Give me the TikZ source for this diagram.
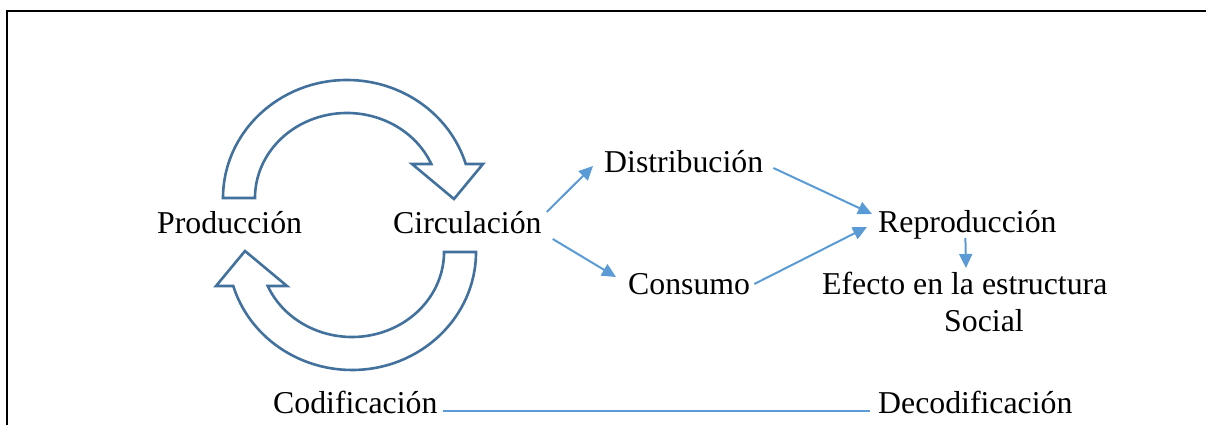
\documentclass[tikz,border=0pt]{standalone}
\usepackage{fontspec}
\setmainfont{Liberation Serif}
\usetikzlibrary{arrows.meta,calc}
\definecolor{arrblue}{HTML}{5B9BD5}
\definecolor{outblue}{HTML}{41719C}
\tikzset{
  lbl/.style={inner sep=0pt, anchor=base west, font=\fontsize{31.8}{37}\selectfont},
  arr/.style={draw=arrblue, line width=2pt, -{Triangle[length=14pt,width=13pt]}},
  link/.style={draw=arrblue, line width=1.3pt},
  bigarrow/.style={draw=outblue, fill=white, line width=2.6pt, line join=miter},
  frame/.style={draw=black, line width=2pt}
}
\begin{document}
\begin{tikzpicture}[x=1pt,y=1pt]
\useasboundingbox (0,0) rectangle (1206,425);
\draw[frame] (7,0) -- (7,414) -- (1206,414);
% curved arrows
\newcommand{\mycurvedarrow}{%
  (223,227) arc[start angle=180, end angle=16.75, x radius=124, y radius=118]
  -- (483,261) -- (454,226) -- (412,261) -- (431.3,261)
  arc[start angle=23.58, end angle=180, x radius=92, y radius=85] -- cycle}
\path[bigarrow] \mycurvedarrow;
\begin{scope}[rotate around={180:(349.5,200)}]
\path[bigarrow] \mycurvedarrow;
\end{scope}
% labels
\node[lbl] (prod) at (157,191) {Producción};
\node[lbl] (circ) at (393,191) {Circulación};
\node[lbl] (dist) at (604,252) {Distribución};
\node[lbl] (cons) at (628,130) {Consumo};
\node[lbl] (repr) at (878,192) {Reproducción};
\node[lbl] (efecto) at (822,130) {Efecto en la estructura};
\node[lbl] (social) at (944,93) {Social};
\node[lbl] (cod) at (273,11) {Codificación};
\node[lbl] (decod) at (878,11) {Decodificación};
% connectors
\draw[arr] ([shift={(5,22)}]circ.base east) -- ([shift={(-11,7)}]dist.base west);
\draw[arr] ([shift={(11,-5)}]circ.base east) -- ([shift={(-12,18)}]cons.base west);
\draw[arr] ([shift={(10,5)}]dist.base east) -- ([shift={(-6,19)}]repr.base west);
\draw[arr] ([shift={(4,11)}]cons.base east) -- ([shift={(-11,6)}]repr.base west);
\draw[arr] ([shift={(-2,-5)}]repr.base) -- ([shift={(144,27)}]efecto.base west);
\draw[link] ([shift={(5,3)}]cod.base east) -- ([shift={(-8,3)}]decod.base west);
\end{tikzpicture}
\end{document}
